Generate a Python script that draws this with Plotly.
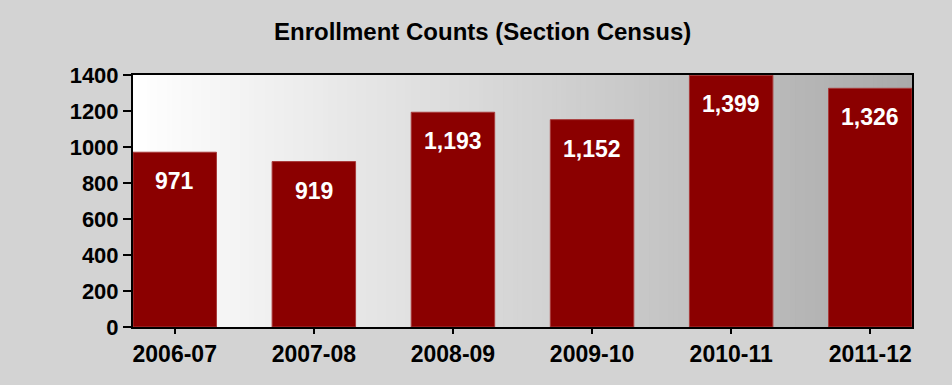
import plotly.graph_objects as go

# Enrollment by academic year (section census)
years = ["2006-07", "2007-08", "2008-09", "2009-10", "2010-11", "2011-12"]
enrollment = [971, 919, 1193, 1152, 1399, 1326]
y_ticks = [0, 200, 400, 600, 800, 1000, 1200, 1400]

BAR_COLOR = "#8b0000"
FONT = "Liberation Sans, Arial, sans-serif"

fig = go.Figure()
fig.add_trace(go.Bar(
    x=years,
    y=enrollment,
    width=0.6,
    marker=dict(color=BAR_COLOR, line=dict(color="#a83a3a", width=1)),
    hoverinfo="x+y",
))

# White bold value labels placed just inside the top of each bar
for yr, val in zip(years, enrollment):
    fig.add_annotation(
        x=yr, y=val, text=f"{val:,}", showarrow=False,
        yanchor="middle", yshift=-29,
        font=dict(family=FONT, size=23, color="white", weight="bold"),
    )

# Horizontal white-to-gray gradient behind the bars
steps = 160
for i in range(steps):
    t = (i + 0.5) / steps
    g = round(255 - t * (255 - 170))
    fig.add_shape(
        type="rect", xref="paper", yref="paper",
        x0=i / steps, x1=(i + 1) / steps + 0.002, y0=0, y1=1,
        fillcolor=f"rgb({g},{g},{g})", line=dict(width=0), layer="below",
    )

fig.update_layout(
    width=952, height=385,
    margin=dict(l=133, r=40, t=75, b=58),
    paper_bgcolor="#d3d3d3",
    plot_bgcolor="white",
    showlegend=False,
    title=dict(
        text="Enrollment Counts (Section Census)",
        x=0.507, xanchor="center", y=0.917, yanchor="middle",
        font=dict(family=FONT, size=24, color="black", weight="bold"),
    ),
    font=dict(family=FONT, color="black"),
)

fig.update_xaxes(
    type="category", range=[-0.3, 5.3],
    showline=True, linecolor="black", linewidth=2, mirror=True,
    ticks="outside", ticklen=5, tickwidth=2, tickcolor="black",
    tickfont=dict(family=FONT, size=23, color="black", weight="bold"),
    showgrid=False, zeroline=False,
)
fig.update_yaxes(
    range=[0, 1400], tickvals=y_ticks,
    showline=True, linecolor="black", linewidth=2, mirror=True,
    ticks="outside", ticklen=8, tickwidth=2, tickcolor="black",
    tickfont=dict(family=FONT, size=22, color="black", weight="bold"),
    showgrid=False, zeroline=False,
)

fig.write_html("out.html")
